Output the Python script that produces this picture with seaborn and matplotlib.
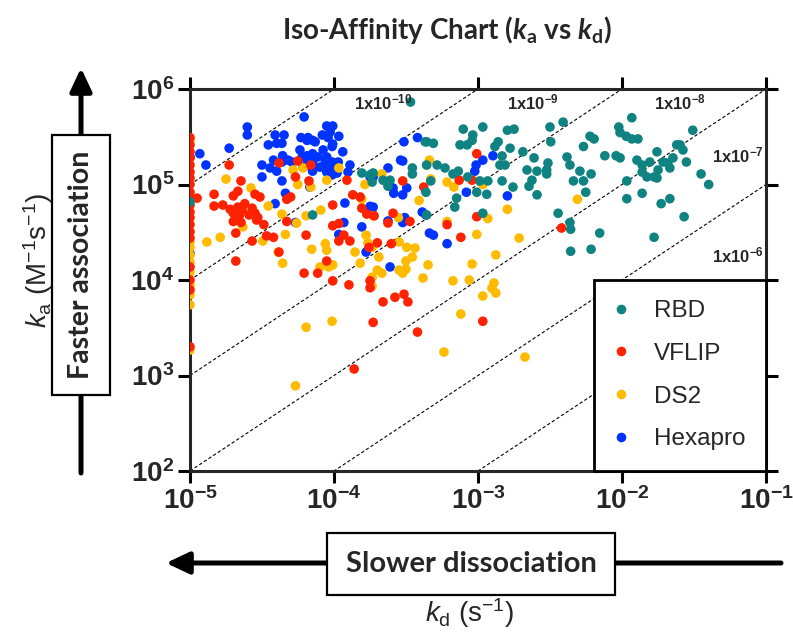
import numpy as np
import pandas as pd
import matplotlib
matplotlib.use("Agg")
import matplotlib.pyplot as plt
import seaborn as sns

# ---- data (kd in 1/s, ka in 1/(M s)) ----
rbd_kd = [3.4e-4, 4.4e-4, 4.9e-4, 7.9e-4, 9.2e-4, 9.1e-4, 7.5e-4, 8.4e-4, 1.08e-3, 1.6e-3,
          1.78e-3, 1.38e-3, 1.31e-3, 1.67e-3, 2.05e-3, 3.16e-3, 3.9e-3, 3.2e-3, 4.15e-3, 2.45e-3,
          3.06e-3, 1.47e-3, 1.42e-3, 1.54e-3, 2.19e-3, 2.57e-3, 3.0e-3, 3.0e-3, 2.37e-3, 2.26e-3,
          2.57e-3, 1.75e-3, 1.47e-3, 1.17e-3, 1.03e-3, 1.15e-3, 9.8e-4, 8.5e-4, 7.3e-4, 6.7e-4,
          5.9e-4, 5.2e-4, 4.4e-4, 3.5e-4, 3.5e-4, 4.7e-4, 4.35e-4, 7.1e-4, 6.9e-4, 2.45e-4,
          2.19e-4, 2.37e-4, 1.87e-4, 1.08e-3, 3.6e-3, 4.35e-3, 1.56e-4, 1.78e-4, 1.84e-4, 4.3e-4,
          7.1e-5, 4.4e-4, 1.0e-5, 1.17e-2, 9.5e-3, 9.7e-3, 6.0e-3, 6.4e-3, 1.07e-2, 1.17e-2,
          1.29e-2, 3.1e-2, 5.4e-3, 7.6e-3, 9.1e-3, 9.7e-3, 1.27e-2, 1.38e-2, 1.56e-2, 1.75e-2,
          1.93e-2, 2.26e-2, 2.4e-2, 2.65e-2, 2.53e-2, 2.8e-2, 4.35e-3, 5.1e-3, 1.38e-2, 1.49e-2,
          1.67e-2, 1.78e-2, 1.75e-2, 2.15e-2, 2.08e-2, 6.1e-3, 4.6e-3, 5.4e-3, 1.08e-2, 5.6e-3,
          1.38e-2, 3.54e-2, 4.0e-2, 1.08e-2, 1.87e-2, 2.15e-2, 2.7e-2, 4.4e-3, 7.0e-3, 1.67e-2,
          4.4e-3, 6.1e-3]
rbd_ka = [7.3e5, 2.8e5, 2.7e5, 3.8e5, 3.3e5, 2.9e5, 2.6e5, 2.6e5, 4.0e5, 3.7e5,
          3.8e5, 2.8e5, 2.5e5, 2.4e5, 2.2e5, 4.0e5, 4.5e5, 2.8e5, 1.94e5, 1.9e5,
          1.68e5, 1.99e5, 1.6e5, 1.6e5, 1.42e5, 1.38e5, 1.42e5, 1.29e5, 1.11e5, 9.6e4,
          7.8e4, 9.4e4, 1.09e5, 1.09e5, 1.09e5, 7.9e4, 8.3e4, 1.2e5, 1.38e5, 1.29e5,
          1.49e5, 1.6e5, 1.6e5, 1.49e5, 1.29e5, 1.09e5, 8.3e4, 7.2e4, 5.8e4, 1.11e5,
          1.11e5, 9.6e4, 1.32e5, 5.0e4, 5.0e4, 4.0e4, 1.32e5, 1.26e5, 1.06e5, 2.8e5,
          4.8e4, 4.8e4, 6.6e4, 5.0e5, 4.0e5, 3.5e5, 3.2e5, 3.0e5, 3.2e5, 3.0e5,
          3.0e5, 3.7e5, 2.5e5, 2.0e5, 2.0e5, 1.9e5, 1.8e5, 1.6e5, 1.72e5, 2.2e5,
          1.72e5, 1.9e5, 2.6e5, 2.3e5, 2.6e5, 1.72e5, 1.6e5, 1.38e5, 1.35e5, 1.2e5,
          1.2e5, 1.42e5, 1.17e5, 1.49e5, 1.68e5, 1.29e5, 1.09e5, 1.09e5, 1.09e5, 8.3e4,
          8.1e4, 1.29e5, 1.0e5, 7.1e4, 6.3e4, 7.1e4, 4.6e4, 3.4e4, 3.1e4, 2.8e4,
          2.0e4, 2.1e4]

vflip_kd = [1e-5] * 20 + [
    1.12e-5, 4.15e-5, 5.6e-5, 6.9e-5, 5.4e-5, 6.7e-5, 2.26e-5, 1.47e-5, 2.0e-5, 2.15e-5,
    2.83e-5, 3.06e-5, 1.69e-5, 1.47e-5, 1.9e-5, 2.15e-5, 2.3e-5, 2.4e-5, 2.7e-5, 2.0e-5,
    2.2e-5, 2.57e-5, 2.83e-5, 2.96e-5, 2.26e-5, 2.0e-5, 3.26e-5, 4.7e-5, 5.0e-5, 4.7e-5,
    1.87e-5, 9.8e-5, 9.8e-5, 1.08e-4, 1.35e-4, 1.56e-4, 1.23e-4, 1.52e-4, 1.69e-4, 1.9e-4,
    3.0e-4, 9.8e-4, 7.4e-4, 9.1e-4, 4.2e-4, 2.57e-4, 3.37e-4, 6.1e-4, 9.8e-4, 3.8e-3,
    2.9e-5, 2.08e-5, 2.7e-5, 3.4e-5, 3.8e-5, 4.15e-5, 2.08e-5, 6.4e-5, 1.17e-4, 1.08e-4,
    1.29e-4, 8.9e-5, 6.2e-5, 7.7e-5, 9.8e-5, 1.27e-4, 1.75e-4, 1.78e-4, 1.78e-4, 2.0e-4,
    1.87e-4, 1.38e-4, 2.37e-4, 2.5e-4, 7.6e-4, 2.19e-4, 2.65e-4, 3.06e-4, 3.26e-4, 3.8e-4,
    1.08e-3]
vflip_ka = [3.1e5, 2.6e5, 2.2e5, 1.9e5, 1.6e5, 1.35e5, 1.17e5, 1.0e5, 8.3e4, 7.2e4,
            6.1e4, 5.15e4, 4.5e4, 3.8e4, 3.2e4, 2.75e4, 1.37e4, 1.0e4, 7.9e3, 2.0e3] + [
    7.2e4, 1.68e5, 1.76e5, 1.6e5, 1.2e5, 1.09e5, 1.09e5, 7.9e4, 7.6e4, 8.5e4,
    7.9e4, 7.4e4, 6.1e4, 5.95e4, 5.5e4, 5.8e4, 5.4e4, 6.3e4, 5.65e4, 5.0e4,
    4.7e4, 4.8e4, 5.0e4, 4.5e4, 4.0e4, 4.1e4, 3.8e4, 7.0e4, 7.4e4, 4.1e4,
    1.6e5, 6.1e4, 3.7e4, 3.9e4, 7.8e4, 5.65e4, 1.11e5, 7.4e4, 4.9e4, 4.7e4,
    1.09e5, 2.1e5, 1.11e5, 1.11e5, 9.4e4, 5.0e4, 4.1e4, 3.8e4, 4.6e4, 3.5e4,
    4.25e4, 3.1e4, 2.56e4, 2.9e4, 2.8e4, 1.96e4, 1.58e4, 2.95e4, 2.95e4, 2.56e4,
    2.56e4, 1.58e4, 1.18e4, 1.18e4, 9.8e3, 8.9e3, 2.2e4, 9.8e3, 8.3e3, 2.45e4,
    3.6e3, 1.17e3, 3.95e4, 2.4e4, 2.8e4, 5.9e3, 6.6e3, 7.1e3, 5.9e3, 2.85e3,
    3.7e3]

ds2_kd = [1e-5] * 10 + [
    1.78e-5, 2.65e-5, 3.5e-5, 4.35e-5, 2.33e-5, 5.2e-5, 6.1e-5, 5.6e-5, 6.9e-5, 5.5e-5,
    1.08e-4, 8.9e-5, 8.1e-5, 1.64e-4, 1.87e-4, 6.4e-5, 2.15e-4, 1.56e-4, 2.8e-4, 3.9e-4,
    4.4e-4, 4.6e-4, 4.7e-4, 6.1e-4, 6.8e-4, 1.08e-3, 1.6e-3, 6.1e-4, 1.17e-3, 9.8e-4,
    1.93e-3, 1.33e-3, 9.1e-4, 4.5e-4, 2.83e-4, 3.16e-4, 3.0e-4, 2.0e-4, 2.15e-4, 2.05e-4,
    1.84e-4, 2.83e-4, 3.2e-4, 3.65e-4, 3.16e-4, 3.5e-4, 4.15e-4, 6.7e-4, 8.7e-4, 1.29e-3,
    1.25e-3, 1.33e-3, 1.08e-3, 7.6e-4, 5.8e-4, 2.12e-3, 1.84e-4, 1.84e-4, 1.62e-5, 1.31e-5,
    3.2e-5, 4.6e-5, 4.1e-5, 4.4e-5, 7.0e-5, 8.7e-5, 8.9e-5, 9.8e-5, 9.2e-5, 8.0e-5,
    1.4e-4, 1.52e-4, 1.67e-4, 1.72e-4, 9.7e-5, 6.4e-5, 5.4e-5, 4.9e-3]
ds2_ka = [2.9e5, 2.5e4, 2.2e4, 1.83e4, 1.54e4, 1.21e4, 8.9e3, 7.0e3, 5.5e3, 1.85e3] + [
    1.14e5, 9.2e4, 5.95e4, 4.9e4, 3.6e4, 1.42e5, 1.49e5, 1.0e5, 9.4e4, 3.95e4,
    1.49e5, 1.11e5, 5.4e4, 1.0e5, 4.7e4, 4.7e4, 1.29e5, 7.0e4, 4.5e4, 6.8e4,
    1.6e5, 1.8e5, 1.14e5, 1.06e5, 9.4e4, 1.0e5, 5.5e4, 4.1e4, 4.4e4, 3.0e4,
    2.75e4, 1.83e4, 1.47e4, 1.44e4, 1.27e4, 1.3e4, 1.18e4, 1.27e4, 1.18e4, 1.74e4,
    2.2e4, 2.5e4, 2.2e4, 2.16e4, 1.58e4, 1.74e4, 1.05e4, 9.8e3, 1.0e4, 9.3e3,
    8.2e3, 7.3e3, 6.8e3, 4.4e3, 1.76e3, 1.56e3, 1.07e4, 8.6e3, 2.8e4, 2.5e4,
    2.56e4, 3.0e4, 1.96e4, 1.5e4, 2.1e4, 2.4e4, 2.05e4, 1.44e4, 1.37e4, 1.37e4,
    1.96e4, 1.5e4, 2.95e4, 2.45e4, 3.7e3, 3.2e3, 7.8e2, 7.0e4]

hexapro_kd = [2.5e-5, 2.5e-5, 6.2e-5, 3.9e-5, 4.5e-5, 4.35e-5, 4.0e-5, 3.5e-5, 5.9e-5, 6.6e-5,
              7.1e-5, 5.8e-5, 1.87e-5, 1.17e-5, 1.29e-5, 3.16e-5, 3.6e-5, 3.8e-5, 4.4e-5, 4.35e-5,
              4.8e-5, 5.1e-5, 6.3e-5, 7.1e-5, 4.0e-5, 3.16e-5, 4.35e-5, 6.1e-5, 7.1e-5, 4.6e-5,
              3.9e-5, 5.4e-5, 6.8e-5, 8.9e-5, 9.8e-5, 9.4e-5, 8.3e-5, 9.1e-5, 1.08e-4, 6.5e-5,
              7.4e-5, 9.8e-5, 9.7e-5, 8.4e-5, 1.15e-4, 7.1e-5, 6.5e-5, 6.0e-5, 7.7e-5, 8.9e-5,
              8.7e-5, 9.7e-5, 1.07e-4, 7.1e-5, 6.5e-5, 8.0e-5, 9.1e-5, 9.8e-5, 8.9e-5, 7.1e-5,
              9.7e-5, 1.29e-4, 1.25e-4, 1.05e-4, 1.8e-4, 1.78e-4, 2.37e-4, 2.9e-4, 3.0e-4, 3.06e-4,
              3.8e-4, 2.57e-4, 3.2e-4, 2.6e-4, 1.19e-4, 1.78e-4, 1.84e-4, 4.1e-4, 3.1e-4, 2.37e-4,
              1.56e-4, 1.87e-4, 3.0e-4, 1.87e-4, 4.35e-4, 3.0e-4, 9.7e-4, 9.5e-4, 1.08e-3, 1.27e-3,
              8.3e-4, 1.6e-3, 4.6e-4, 4.9e-4, 6.1e-4, 2.45e-4, 1.17e-4, 1.08e-4, 1.67e-4, 1e-5,
              1e-5]
hexapro_ka = [4.0e5, 3.3e5, 5.1e5, 3.3e5, 3.3e5, 2.7e5, 2.7e5, 2.6e5, 3.1e5, 3.1e5,
              2.9e5, 2.3e5, 2.4e5, 2.1e5, 1.6e5, 1.6e5, 1.49e5, 1.8e5, 2.0e5, 1.72e5,
              1.8e5, 1.72e5, 1.94e5, 2.0e5, 1.38e5, 1.2e5, 1.09e5, 1.52e5, 1.42e5, 8.1e4,
              6.3e4, 4.0e4, 9.4e4, 4.1e5, 4.1e5, 3.55e5, 3.3e5, 3.1e5, 3.2e5, 2.9e5,
              2.8e5, 2.65e5, 2.5e5, 2.3e5, 2.2e5, 2.1e5, 2.0e5, 1.94e5, 1.94e5, 1.94e5,
              1.72e5, 1.72e5, 1.72e5, 1.68e5, 1.6e5, 1.52e5, 1.52e5, 1.42e5, 1.35e5, 1.38e5,
              1.26e5, 1.6e5, 1.35e5, 1.32e5, 1.26e5, 1.2e5, 1.49e5, 1.8e5, 1.76e5, 2.8e5,
              3.1e5, 9.2e4, 9.2e4, 8.1e4, 6.4e4, 5.9e4, 5.0e4, 5.15e4, 4.5e4, 4.15e4,
              3.6e4, 1.2e5, 7.8e4, 5.8e4, 4.8e4, 4.0e4, 1.6e5, 1.38e5, 1.8e5, 2.0e5,
              8.3e4, 7.6e4, 3.1e4, 2.95e4, 2.4e4, 1.37e4, 4.0e4, 3.0e4, 1.96e4, 1.94e5,
              1.9e4]

constructs = ["RBD", "VFLIP", "DS2", "Hexapro"]
colors = ["#0f8282", "#ff2200", "#ffbb00", "#0033ff"]
iso_kd_values = [1e-10, 1e-9, 1e-8, 1e-7, 1e-6, 1e-5, 1e-4]
iso_labels = ["1x10$^\\mathdefault{-10}$", "1x10$^\\mathdefault{-9}$", "1x10$^\\mathdefault{-8}$",
              "1x10$^\\mathdefault{-7}$", "1x10$^\\mathdefault{-6}$"]
xticks = [1e-5, 1e-4, 1e-3, 1e-2, 1e-1]
xtick_labels = ["$\\mathdefault{10^{-5}}$", "$\\mathdefault{10^{-4}}$", "$\\mathdefault{10^{-3}}$",
                "$\\mathdefault{10^{-2}}$", "$\\mathdefault{10^{-1}}$"]
yticks = [1e2, 1e3, 1e4, 1e5, 1e6]
ytick_labels = ["$\\mathdefault{10^{2}}$", "$\\mathdefault{10^{3}}$", "$\\mathdefault{10^{4}}$",
                "$\\mathdefault{10^{5}}$", "$\\mathdefault{10^{6}}$"]

sns.set_style("ticks")
plt.rcParams["font.family"] = ["Liberation Sans", "DejaVu Sans"]
plt.rcParams["mathtext.fontset"] = "custom"
plt.rcParams["mathtext.it"] = "Liberation Sans:italic"
plt.rcParams["mathtext.cal"] = "Lato:italic:bold"

# draw order: blue, gold, red, teal on top
frames = []
for name, kd, ka in [("Hexapro", hexapro_kd, hexapro_ka), ("DS2", ds2_kd, ds2_ka),
                     ("VFLIP", vflip_kd, vflip_ka), ("RBD", rbd_kd, rbd_ka)]:
    frames.append(pd.DataFrame({"kd": kd, "ka": ka, "construct": name}))
df = pd.concat(frames, ignore_index=True)

W, H = 793, 639
fig = plt.figure(figsize=(W / 100, H / 100), dpi=100)
ax = fig.add_axes([190 / W, 1 - 471 / H, 576 / W, 382 / H])
ax.set_xscale("log")
ax.set_yscale("log")

# iso-affinity lines ka = kd / KD
kd_line = np.array([1e-5, 1e-1])
for KD in iso_kd_values:
    ax.plot(kd_line, kd_line / KD, color="black", lw=0.8, ls=(0, (3, 2)), zorder=1)

sns.scatterplot(data=df, x="kd", y="ka", hue="construct", hue_order=constructs,
                palette=colors, s=48, linewidth=0, alpha=1, ax=ax, zorder=3)

ax.set_xlim(1e-5, 1e-1)
ax.set_ylim(1e2, 1e6)
ax.set_xticks(xticks)
ax.set_xticklabels(xtick_labels)
ax.set_yticks(yticks)
ax.set_yticklabels(ytick_labels)
ax.minorticks_off()
ax.set_xlabel("")
ax.set_ylabel("")
for sp in ax.spines.values():
    sp.set_linewidth(2.2)
    sp.set_visible(True)
ax.tick_params(which="major", direction="out", length=8.5, width=2.2, top=True, right=True,
               labelsize=20, pad=3, color="black")
for lab in ax.get_xticklabels() + ax.get_yticklabels():
    lab.set_fontweight("bold")

# iso labels
label_pos = [(0.335, 0.965), (0.595, 0.965), (0.851, 0.965), (0.952, 0.827), (0.952, 0.565)]
for txt, (px, py) in zip(iso_labels, label_pos):
    ax.text(px, py, txt, transform=ax.transAxes, ha="center", va="center",
            fontsize=12, fontweight="bold", zorder=4)

handles, labels = ax.get_legend_handles_labels()
leg = ax.legend(handles, labels, loc="lower right", borderaxespad=0, frameon=True,
                fancybox=False, framealpha=1, edgecolor="black", fontsize=17.5,
                handlelength=0.5, handletextpad=1.1, borderpad=0.85, labelspacing=0.85)
leg.get_frame().set_linewidth(2.0)

# title and outer labels
fig.text(447 / W, 1 - 30 / H, "Iso-Affinity Chart ($\\mathcal{k}_\\mathdefault{a}$ vs $\\mathcal{k}_\\mathdefault{d}$)",
         family="Lato", fontweight="bold", fontsize=20, ha="center", va="center")
fig.text(38 / W, 1 - 260 / H, "$\\mathit{k}_\\mathdefault{a}$ (M$^\\mathdefault{-1}$s$^\\mathdefault{-1}$)",
         rotation=90, fontsize=20, ha="center", va="center")
fig.text(470 / W, 1 - 613 / H, "$\\mathit{k}_\\mathdefault{d}$ (s$^\\mathdefault{-1}$)",
         fontsize=20, ha="center", va="center")

arrow_kw = dict(arrowstyle="-|>,head_length=0.7,head_width=0.33", lw=3.6, color="black",
                shrinkA=0, shrinkB=0, mutation_scale=20)
ax.annotate("", xy=(81 / W, 1 - 68 / H), xytext=(81 / W, 1 - 473 / H), xycoords="figure fraction",
            textcoords="figure fraction", arrowprops=arrow_kw, annotation_clip=False)
ax.annotate("", xy=(166 / W, 1 - 563 / H), xytext=(781 / W, 1 - 563 / H), xycoords="figure fraction",
            textcoords="figure fraction", arrowprops=arrow_kw, annotation_clip=False)

fig.text(81 / W, 1 - 265 / H, "Faster association", rotation=90, family="Lato", fontweight="bold",
         fontsize=20.5, ha="center", va="center",
         bbox=dict(boxstyle="square,pad=0.55", fc="white", ec="black", lw=1.6))
fig.text(471 / W, 1 - 564 / H, "Slower dissociation", family="Lato", fontweight="bold",
         fontsize=21, ha="center", va="center",
         bbox=dict(boxstyle="square,pad=0.62", fc="white", ec="black", lw=1.6))

fig.savefig("out.png", dpi=100)
